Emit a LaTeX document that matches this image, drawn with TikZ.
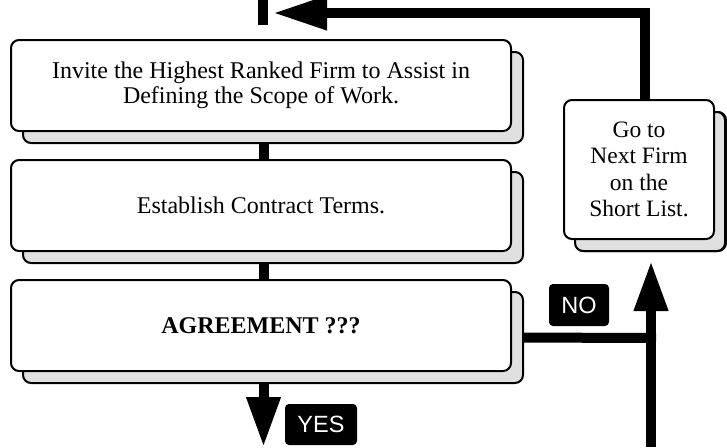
\documentclass[tikz,border=0pt]{standalone}
\usepackage{fontspec}
\setmainfont{Liberation Serif}
\newfontfamily\labelfont{Liberation Sans}
\usetikzlibrary{shadows,arrows.meta,backgrounds}
\definecolor{shadowgray}{HTML}{E0E0E0}
\begin{document}
\begin{tikzpicture}[x=1pt,y=-1pt,
  box/.style={draw, line width=2pt, rounded corners=8pt, fill=white,
    inner sep=0pt, align=center,
    copy shadow={shadow xshift=12pt, shadow yshift=-12pt, fill=shadowgray, draw=black, line width=2pt}},
  mainbox/.style={box, minimum width=500pt, minimum height=91pt,
    font=\fontsize{24}{24.5}\selectfont},
  sidebox/.style={box, minimum width=150pt, minimum height=139pt,
    font=\fontsize{23.5}{26.5}\selectfont,
    copy shadow={shadow xshift=11pt, shadow yshift=-12pt, fill=shadowgray, draw=black, line width=2pt}},
  conn/.style={line width=10pt, line join=miter},
  headA/.style={-{Triangle[length=54pt,width=32pt]}},
  headB/.style={-{Triangle[length=50pt,width=32pt]}},
  tag/.style={fill=black, text=white, rounded corners=4pt, inner sep=0pt,
    font=\labelfont\fontsize{23.5}{23.5}\selectfont}
]
\useasboundingbox (0,0) rectangle (727,447);

\node[mainbox] (b1) at (261,85.5) {Invite the Highest Ranked Firm to Assist in\\Defining the Scope of Work.};
\node[mainbox] (b2) at (261,205.5) {Establish Contract Terms.};
\node[mainbox] (b3) at (261,325.5) {\bfseries AGREEMENT ???};
\node[sidebox] (s) at (639,169.5) {Go to\\Next Firm\\on the\\Short List.};

\node[tag, minimum width=72pt, minimum height=41pt] (yes) at (321,424.5) {YES};
\node[tag, minimum width=60pt, minimum height=42pt] (no) at (579,305) {NO};

\coordinate (topa) at (263,0);
\coordinate (topb) at (263,25);
\coordinate (corner) at (645,13);
\coordinate (tip) at (273,13);
\coordinate (join) at (651,338);
\coordinate (upstart) at (651,447);

\begin{scope}[on background layer]
  \draw[conn] (topa) -- (topb);
  \draw[conn, headA] ([xshift=6pt]s.north) -- (corner) -- (tip);
  \draw[conn] ([xshift=2.5pt]b1.south) -- ([xshift=2.5pt]b2.north);
  \draw[conn] ([xshift=2.5pt]b2.south) -- ([xshift=2.5pt]b3.north);
  \draw[conn, headB] ([xshift=2.5pt,yshift=-12pt]b3.south) -- ([xshift=2.5pt,yshift=-75pt]b3.south);
  \draw[conn] ([yshift=-12pt]b3.east) -- ([xshift=5pt]join);
  \draw[conn, headB] (upstart) -- ([xshift=12pt,yshift=-21pt]s.south);
\end{scope}
\end{tikzpicture}
\end{document}
